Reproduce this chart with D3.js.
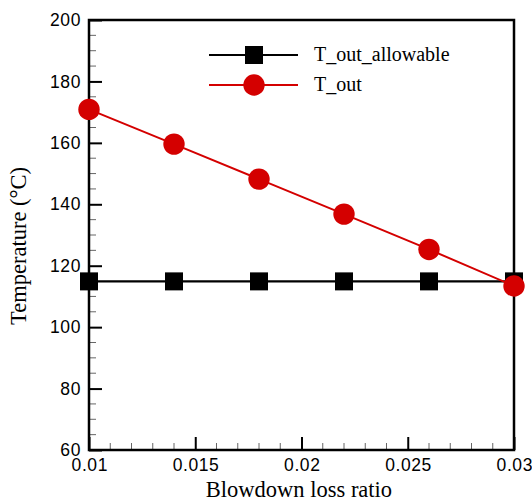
<!DOCTYPE html>
<html><head><meta charset="utf-8">
<script src="https://cdn.jsdelivr.net/npm/d3@7"></script>
<style>html,body{margin:0;padding:0;background:#fff;}</style>
</head><body>
<svg id="c" width="532" height="501"></svg>
<script>
const xValues = [0.010, 0.014, 0.018, 0.022, 0.026, 0.030];
const tOutAllowable = [114.9, 114.9, 114.9, 114.9, 114.9, 114.9];
const tOut = [170.9, 159.6, 148.2, 136.8, 125.3, 113.4];
const seriesNames = ["T_out_allowable", "T_out"];
const xTicks = [0.01, 0.015, 0.02, 0.025, 0.03];
const xTickLabels = ["0.01", "0.015", "0.02", "0.025", "0.03"];
const yTicks = [60, 80, 100, 120, 140, 160, 180, 200];
const xTitle = "Blowdown loss ratio";
const yTitle = "Temperature (°C)";

const svg = d3.select("#c");
const L = 89, R = 514, T = 20, B = 450;
const x = d3.scaleLinear().domain([0.01, 0.03]).range([L, R]);
const y = d3.scaleLinear().domain([60, 200]).range([B, T]);

// minor ticks
const xMinor = d3.range(0.010, 0.0300001, 0.001).filter(v => !xTicks.some(t => Math.abs(t - v) < 1e-9));
const yMinor = d3.range(60, 201, 5).filter(v => v % 20 !== 0);

const g = svg.append("g");
g.selectAll(".xmin").data(xMinor).enter().append("line")
  .attr("x1", d => x(d)).attr("x2", d => x(d)).attr("y1", B).attr("y2", B - 7)
  .attr("stroke", "#666").attr("stroke-width", 1);
g.selectAll(".ymin").data(yMinor).enter().append("line")
  .attr("y1", d => y(d)).attr("y2", d => y(d)).attr("x1", L).attr("x2", L + 7)
  .attr("stroke", "#666").attr("stroke-width", 1);

const tickFont = "Liberation Sans, Arial, sans-serif";

// axes with inward major ticks
const xAxis = d3.axisBottom(x).tickValues(xTicks).tickFormat((d, i) => xTickLabels[i]).tickSizeInner(-13).tickSizeOuter(0).tickPadding(18);
const gx = svg.append("g").attr("transform", `translate(0,${B})`).call(xAxis);
gx.select(".domain").remove();
gx.selectAll(".tick line").attr("stroke", "#000").attr("stroke-width", 2);
gx.selectAll(".tick text").attr("font-family", tickFont).attr("font-size", 17.5).attr("fill", "#000")
  .attr("dy", "0").attr("y", 21).attr("letter-spacing", 0.6).attr("dx", 0.3);

const yAxis = d3.axisLeft(y).tickValues(yTicks).tickFormat(d3.format("d")).tickSizeInner(-13).tickSizeOuter(0).tickPadding(9);
const gy = svg.append("g").attr("transform", `translate(${L},0)`).call(yAxis);
gy.select(".domain").remove();
gy.selectAll(".tick line").attr("stroke", "#000").attr("stroke-width", 2);
gy.selectAll(".tick text").attr("font-family", tickFont).attr("font-size", 17.5).attr("fill", "#000")
  .attr("x", -8).attr("letter-spacing", 0.6);

// frame
svg.append("rect").attr("x", L).attr("y", T).attr("width", R - L).attr("height", B - T)
  .attr("fill", "none").attr("stroke", "#000").attr("stroke-width", 2.5);

// series
const line = d3.line().x((d, i) => x(xValues[i])).y(d => y(d));
svg.append("path").datum(tOutAllowable).attr("d", line).attr("fill", "none").attr("stroke", "#000").attr("stroke-width", 2.2);
svg.selectAll(".sq").data(tOutAllowable).enter().append("rect")
  .attr("x", (d, i) => x(xValues[i]) - 9).attr("y", d => y(d) - 9).attr("width", 18).attr("height", 18).attr("fill", "#000");

svg.append("path").datum(tOut).attr("d", line).attr("fill", "none").attr("stroke", "#d40000").attr("stroke-width", 2);
svg.selectAll(".ci").data(tOut).enter().append("circle")
  .attr("cx", (d, i) => x(xValues[i])).attr("cy", d => y(d)).attr("r", 10.7).attr("fill", "#d40000");

// legend
const lg = svg.append("g");
lg.append("line").attr("x1", 209).attr("x2", 298).attr("y1", 55).attr("y2", 55).attr("stroke", "#000").attr("stroke-width", 2.2);
lg.append("rect").attr("x", 254 - 9).attr("y", 55 - 9).attr("width", 18).attr("height", 18).attr("fill", "#000");
lg.append("text").attr("x", 314).attr("y", 61).text(seriesNames[0])
  .attr("font-family", "Liberation Serif, Times New Roman, serif").attr("font-size", 20).attr("fill", "#000");
lg.append("line").attr("x1", 209).attr("x2", 298).attr("y1", 85).attr("y2", 85).attr("stroke", "#d40000").attr("stroke-width", 2);
lg.append("circle").attr("cx", 254).attr("cy", 85).attr("r", 10.7).attr("fill", "#d40000");
lg.append("text").attr("x", 314).attr("y", 91).text(seriesNames[1])
  .attr("font-family", "Liberation Serif, Times New Roman, serif").attr("font-size", 20).attr("fill", "#000");

// titles
svg.append("text").attr("x", 299).attr("y", 497).attr("text-anchor", "middle").text(xTitle)
  .attr("font-family", "Liberation Serif, Times New Roman, serif").attr("font-size", 22.5).attr("fill", "#000");
svg.append("text").attr("transform", "translate(26,246) rotate(-90)").attr("text-anchor", "middle").text(yTitle)
  .attr("font-family", "Liberation Serif, Times New Roman, serif").attr("font-size", 22.5).attr("fill", "#000");
</script>
</body></html>
